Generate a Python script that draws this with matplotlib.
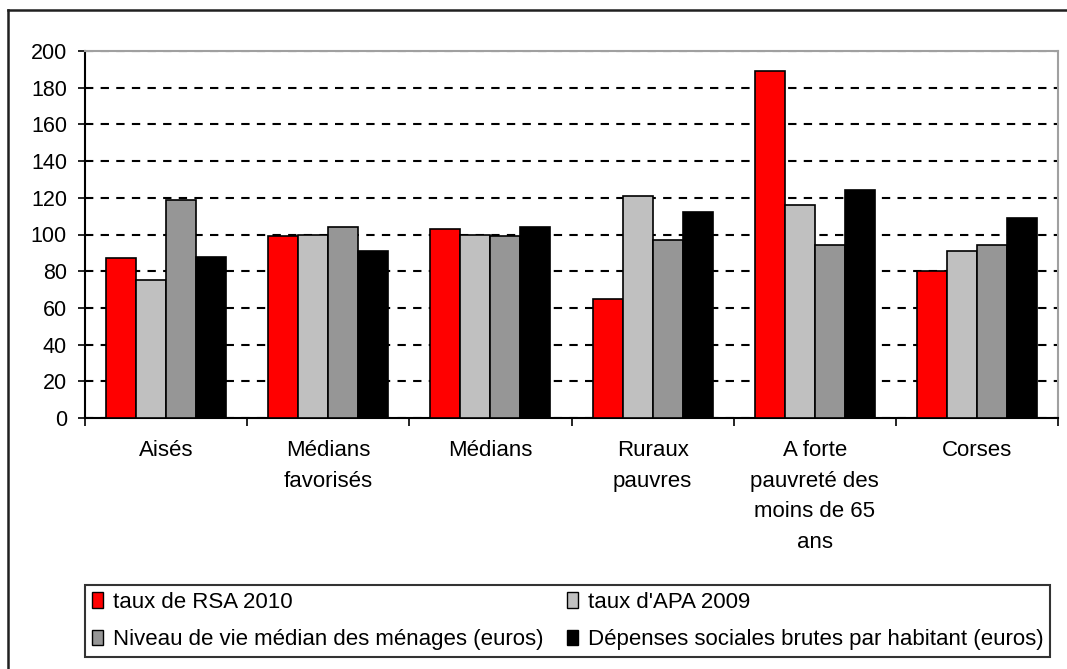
import matplotlib
matplotlib.use("Agg")
import matplotlib.pyplot as plt
import numpy as np
from matplotlib.lines import Line2D
from matplotlib.patches import Patch

categories = ["Aisés", "Médians\nfavorisés", "Médians", "Ruraux\npauvres",
              "A forte\npauvreté des\nmoins de 65\nans", "Corses"]
rsa = [87, 99, 103, 65, 189, 80]
apa = [75, 100, 100, 121, 116, 91]
niveau = [119, 104, 99, 97, 94.5, 94.5]
depenses = [88, 91, 104, 112, 124, 109]
series_names = ["taux de RSA 2010", "taux d'APA 2009",
                "Niveau de vie médian des ménages (euros)",
                "Dépenses sociales brutes par habitant (euros)"]
colors = ["#ff0000", "#c0c0c0", "#969696", "#000000"]
yticks = list(range(0, 201, 20))

plt.rcParams['font.family'] = ['Liberation Sans', 'DejaVu Sans']

W, H = 1067, 669
fig = plt.figure(figsize=(W / 100, H / 100), dpi=100)
ax = fig.add_axes([85 / W, 1 - 418 / H, (1058 - 85) / W, (418 - 51) / H])

x = np.arange(len(categories))
w = 0.185
data = [rsa, apa, niveau, depenses]
for j, (vals, c) in enumerate(zip(data, colors)):
    ax.bar(x + (j - 1.5) * w, vals, width=w, color=c, edgecolor="#000000",
           linewidth=1.2, zorder=3)

ax.set_xlim(-0.5, len(categories) - 0.5)
ax.set_ylim(0, 200)
ax.set_yticks(yticks)
ax.set_yticklabels([str(v) for v in yticks], fontsize=15.5)
ax.yaxis.grid(True, color="black", linestyle=(0, (4, 3.5)), linewidth=1.5, zorder=1)
ax.set_axisbelow(True)

ax.set_xticks(x)
ax.set_xticklabels(categories, fontsize=16, linespacing=1.6, va="top")
ax.tick_params(axis="x", which="major", length=0, pad=16)
ax.set_xticks(np.arange(-0.5, len(categories), 1.0), minor=True)
ax.tick_params(axis="x", which="minor", length=6, width=1.2, direction="out")
ax.tick_params(axis="y", which="major", length=10, width=1.2, direction="inout", pad=8)

for s in ["left", "bottom"]:
    ax.spines[s].set_color("black")
    ax.spines[s].set_linewidth(1.5)
for s in ["top", "right"]:
    ax.spines[s].set_color("#a0a0a0")
    ax.spines[s].set_linewidth(1.5)

handles = [Patch(facecolor=c, edgecolor="black", linewidth=1.0) for c in colors]
order = [0, 2, 1, 3]
leg = fig.legend([handles[i] for i in order], [series_names[i] for i in order],
                 loc="upper left", ncol=2, mode="expand",
                 bbox_to_anchor=(85 / W, 1 - 662 / H, (1050 - 85) / W, (662 - 585) / H),
                 fontsize=16, frameon=True, fancybox=False, edgecolor="black",
                 handlelength=0.5, handleheight=0.7, handletextpad=0.45,
                 labelspacing=0.75, borderpad=0.3, borderaxespad=0.0)
leg.get_frame().set_linewidth(1.5)

# outer chart frame (cut off at right and bottom)
fig.add_artist(Line2D([8 / W, 8 / W], [0, 1 - 10 / H], transform=fig.transFigure,
                      color="#202020", linewidth=1.8))
fig.add_artist(Line2D([8 / W, 1], [1 - 10 / H, 1 - 10 / H], transform=fig.transFigure,
                      color="#202020", linewidth=1.8))

fig.savefig("out.png", dpi=100, facecolor="white")
